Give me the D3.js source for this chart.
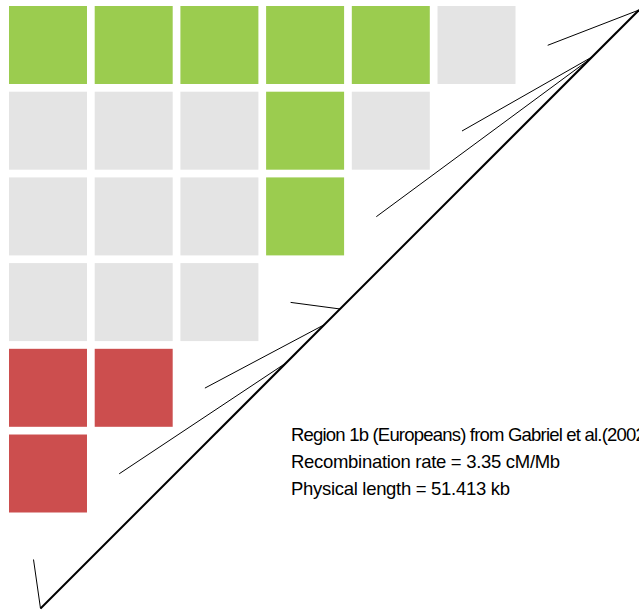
<!DOCTYPE html>
<html><head><meta charset="utf-8">
<script src="https://cdn.jsdelivr.net/npm/d3@7"></script>
<style>body{margin:0;background:#fff}svg{display:block}</style>
</head><body>
<script>
// SNP physical positions (kb) along the region
const snpPositions = [0, 21.09, 24.38, 25.73, 47.20, 47.38, 51.413];
// LD block categories, one array per row (top to bottom), g=strong LD, n=uninformative, r=recombination
const row0 = ["g","g","g","g","g","n"];
const row1 = ["n","n","n","g","n"];
const row2 = ["n","n","n","g"];
const row3 = ["n","n","n"];
const row4 = ["r","r"];
const row5 = ["r"];
const rows = [row0,row1,row2,row3,row4,row5];
const categoryNames = ["g","n","r"];
const categoryColors = ["#9BCC4F","#E4E4E4","#CC4E4E"];
const infoLines = [
  "Region 1b (Europeans) from Gabriel et al.(2002)",
  "Recombination rate = 3.35 cM/Mb",
  "Physical length = 51.413 kb"
];

const W = 639, H = 613;
const svg = d3.select("body").append("svg").attr("width", W).attr("height", H);

const n = rows.length;
const idx = d3.range(n);
const xCell = d3.scaleBand().domain(idx).range([9, 515.5]).paddingInner(0.09).paddingOuter(0);
const yCell = d3.scaleBand().domain(idx).range([6, 512.5]).paddingInner(0.09).paddingOuter(0);
const color = d3.scaleOrdinal().domain(categoryNames).range(categoryColors);

const cells = [];
rows.forEach((r, ri) => r.forEach((v, ci) => cells.push({ri, ci, v})));
svg.append("g").selectAll("rect").data(cells).join("rect")
  .attr("x", d => xCell(d.ci)).attr("y", d => yCell(d.ri))
  .attr("width", xCell.bandwidth()).attr("height", yCell.bandwidth())
  .attr("fill", d => color(d.v));

// genomic axis (diagonal)
const total = snpPositions[snpPositions.length - 1];
const gx = d3.scaleLinear().domain([0, total]).range([40.5, 639]);
const gy = d3.scaleLinear().domain([0, total]).range([608.5, 10]);
// SNP index positions on the heatmap edge
const sx = d3.scaleLinear().domain([0, snpPositions.length - 1]).range([33.5, 547.7]);
const sy = d3.scaleLinear().domain([0, snpPositions.length - 1]).range([559.5, 45.3]);

svg.append("g").selectAll("line").data(snpPositions).join("line")
  .attr("x1", (d,i) => sx(i)).attr("y1", (d,i) => sy(i))
  .attr("x2", d => gx(d)).attr("y2", d => gy(d))
  .attr("stroke", "#000").attr("stroke-width", 1);

svg.append("line")
  .attr("x1", gx(0)).attr("y1", gy(0)).attr("x2", gx(total)).attr("y2", gy(total))
  .attr("stroke", "#000").attr("stroke-width", 2);

const spacing = [-0.8, -0.3, -0.3];
svg.append("g").selectAll("text").data(infoLines).join("text")
  .attr("x", 291).attr("y", (d,i) => 441 + i*27)
  .attr("font-family", "Liberation Sans, Arial, sans-serif")
  .attr("font-size", 18.5)
  .attr("letter-spacing", (d,i) => spacing[i])
  .attr("fill", "#000")
  .text(d => d);
</script>
</body></html>
